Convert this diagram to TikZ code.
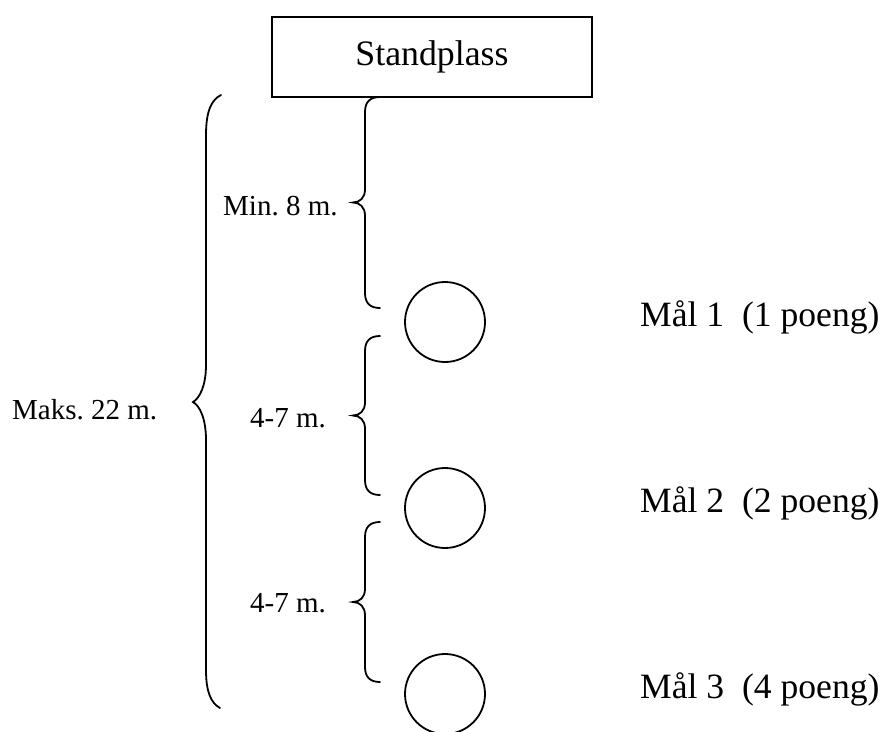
\documentclass[tikz,border=0pt]{standalone}
\usepackage{fontspec}
\setmainfont{Liberation Serif}
\frenchspacing
\newcommand\smallbr[2]{%
  \pgfmathsetmacro\mm{(#1+#2)/2}%
  \draw[brace] (380,#1) .. controls (370,#1) and (365,{#1+5}) .. (365,{#1+15})
    -- (365,{\mm-13}) .. controls (365,{\mm-5}) and (360,\mm) .. (353,\mm)
    .. controls (360,\mm) and (365,{\mm+5}) .. (365,{\mm+13})
    -- (365,{#2-15}) .. controls (365,{#2-5}) and (370,#2) .. (380,#2);}
\begin{document}
\begin{tikzpicture}[x=1pt,y=-1pt,
  brace/.style={line width=1.8pt,line cap=round},
  target/.style={draw,circle,line width=1.8pt,minimum size=80pt,inner sep=0pt},
  big/.style={font=\fontsize{35.6}{40}\selectfont,inner sep=0pt},
  small/.style={font=\fontsize{29}{33}\selectfont,inner sep=0pt,anchor=base west}]
\useasboundingbox (0,0) rectangle (883,731);
\node[draw,line width=1.5pt,minimum width=320pt,minimum height=80pt,
  font=\fontsize{35.8}{40}\selectfont,inner sep=0pt] (stand) at (432,57) {Standplass};
\node[target] (m1) at (445,322) {};
\node[target] (m2) at (445,508) {};
\node[target] (m3) at (445,694) {};
\node[big,anchor=base west] (l1) at (640,326) {Mål 1\ \ (1 poeng)};
\node[big,anchor=base west] (l2) at (640,512) {Mål 2\ \ (2 poeng)};
\node[big,anchor=base west] (l3) at (640,698) {Mål 3\ \ (4 poeng)};
\node[small] (d1) at (223,215) {Min. 8 m.};
\node[small] (d2) at (250,427) {4-7 m.};
\node[small] (d3) at (250,612) {4-7 m.};
\node[small] (dmax) at (12,419) {Maks. 22 m.};
\smallbr{97}{308}
\smallbr{336}{495}
\smallbr{522}{682}
\draw[brace] (221,95) .. controls (211,100) and (206,112) .. (206,135)
  -- (206,365) .. controls (206,385) and (200,398) .. (193,402)
  .. controls (200,406) and (206,419) .. (206,440)
  -- (206,670) .. controls (206,692) and (211,703) .. (220,708);
\end{tikzpicture}
\end{document}
